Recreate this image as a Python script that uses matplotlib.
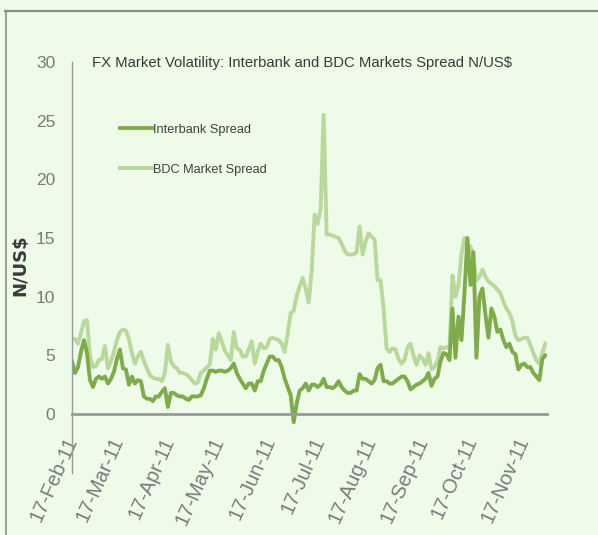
import matplotlib
matplotlib.use("Agg")
import matplotlib.pyplot as plt
from matplotlib.lines import Line2D
import pandas as pd

# Daily-ish readings, 17-Feb-11 to end of Nov-11 (N/US$)
interbank = [
    4.5, 3.5, 4.0, 5.3, 6.3, 5.2, 2.9, 2.3, 3.0, 3.2,
    3.0, 3.2, 2.6, 3.0, 3.6, 4.7, 5.5, 3.9, 3.8, 2.5,
    3.2, 2.6, 2.9, 2.8, 1.5, 1.3, 1.3, 1.1, 1.5, 1.5,
    1.9, 2.2, 0.6, 1.8, 1.8, 1.6, 1.5, 1.5, 1.3, 1.2,
    1.5, 1.5, 1.5, 1.6, 2.2, 3.0, 3.7, 3.7, 3.6, 3.7,
    3.7, 3.6, 3.7, 3.9, 4.3, 3.5, 3.0, 2.6, 2.2, 2.6,
    2.6, 2.0, 2.8, 2.8, 3.7, 4.3, 4.9, 4.9, 4.6, 4.6,
    4.0, 3.0, 2.3, 1.6, -0.7, 0.9, 2.0, 2.2, 2.6,
    2.0, 2.5, 2.5, 2.3, 2.5, 3.0, 2.3, 2.3, 2.2, 2.4,
    2.8, 2.3, 2.0, 1.8, 1.8, 2.0, 2.0, 3.4, 3.0, 3.0,
    2.8, 2.6, 2.9, 3.9, 4.2, 2.8, 2.8, 2.6, 2.6, 2.8,
    3.0, 3.2, 3.2, 2.8, 2.1, 2.3, 2.5, 2.6, 2.8, 3.0,
    3.5, 2.4, 3.0, 3.2, 4.5, 5.2, 5.1, 4.6, 9.0, 4.8,
    8.3, 6.3, 10.3, 15.0, 11.0, 13.8, 4.8, 10.0, 10.7, 8.5,
    6.5, 9.0, 8.3, 7.0, 7.2, 6.3, 5.7, 6.0, 5.3, 5.1,
    3.8, 4.2, 4.3, 4.0, 4.0, 3.5, 3.2, 2.9, 4.7, 5.0,
]
bdc = [
    6.4, 6.4, 6.0, 6.9, 7.9, 8.0, 4.9, 4.0, 4.1, 4.6,
    4.7, 5.8, 3.9, 4.5, 5.3, 6.3, 7.0, 7.2, 7.1, 6.4,
    5.2, 4.3, 4.9, 5.3, 4.5, 3.9, 3.3, 3.1, 3.0, 3.0,
    2.8, 3.5, 5.9, 4.5, 4.1, 3.9, 3.5, 3.5, 3.4, 3.2,
    2.9, 2.6, 2.7, 3.5, 3.7, 4.0, 4.2, 6.4, 5.5, 6.9,
    6.2, 5.4, 5.0, 4.6, 7.0, 5.6, 5.5, 4.9, 4.9, 5.5,
    6.2, 4.3, 5.3, 6.0, 5.6, 5.7, 6.4, 6.5, 6.4, 6.3,
    6.0, 5.3, 6.9, 8.6, 8.8, 10.1, 10.9, 11.6, 10.7,
    9.5, 12.2, 17.0, 16.2, 17.5, 25.5, 15.3, 15.3, 15.2, 15.1,
    15.0, 14.5, 13.9, 13.6, 13.6, 13.6, 13.8, 16.0, 13.6, 14.7,
    15.4, 15.1, 14.9, 11.4, 11.4, 9.0, 5.6, 5.3, 5.6, 5.5,
    4.7, 4.3, 4.6, 5.7, 6.0, 5.0, 4.2, 5.0, 4.7, 4.2,
    5.2, 3.8, 4.0, 4.5, 5.7, 5.6, 5.7, 5.6, 11.8, 10.0,
    11.0, 13.6, 15.0, 14.3, 14.3, 13.3, 11.4, 11.7, 12.3, 11.7,
    11.3, 11.1, 10.9, 10.6, 10.3, 9.6, 9.0, 8.6, 7.9, 6.7,
    6.3, 6.4, 6.5, 6.5, 5.9, 5.2, 4.6, 4.3, 5.2, 6.0,
]
start_date = "2011-02-17"
end_date = "2011-11-30"
tick_dates = ["2011-02-17", "2011-03-17", "2011-04-17", "2011-05-17", "2011-06-17",
              "2011-07-17", "2011-08-17", "2011-09-17", "2011-10-17", "2011-11-17"]
y_ticks = [0, 5, 10, 15, 20, 25, 30]
title = "FX Market Volatility: Interbank and BDC Markets Spread N/US$"
series_names = ["Interbank Spread", "BDC Market Spread"]

BG = "#eefbe8"
DARK = "#7fab4d"
LIGHT = "#b9d89b"
FONT = ["Liberation Sans Narrow", "Liberation Sans"]


def fitted_size(fig, renderer, s, target_px, weight="normal"):
    # font size (pt) that makes string s about target_px wide
    t = fig.text(0, 0, s, family=FONT, fontsize=10, fontweight=weight)
    w = t.get_window_extent(renderer).width
    t.remove()
    return 10 * target_px / w


def main():
    fig = plt.figure(figsize=(5.98, 5.35), dpi=100, facecolor=BG)
    renderer = fig.canvas.get_renderer()
    ax = fig.add_axes([0.1204, 0.1164, 0.7943, 0.7677], facecolor=BG)

    dates = pd.date_range(start_date, end_date, periods=len(interbank))
    ax.plot(dates, bdc, color=LIGHT, lw=2.8)
    ax.plot(dates, interbank, color=DARK, lw=2.8)

    ax.set_ylim(-5, 30)
    ax.set_xlim(pd.Timestamp("2011-02-17"), pd.Timestamp("2011-12-01"))

    for side in ("top", "right"):
        ax.spines[side].set_visible(False)
    ax.spines["left"].set_color("#9a9a9a")
    ax.spines["left"].set_linewidth(1.0)
    ax.spines["bottom"].set_position(("data", 0))
    ax.spines["bottom"].set_color("#9a9a9a")
    ax.spines["bottom"].set_linewidth(2.0)

    xsize = fitted_size(fig, renderer, "17-Nov-11", 92)

    ticks = pd.to_datetime(tick_dates)
    ax.set_xticks(ticks)
    ax.set_xticklabels([t.strftime("%d-%b-%y") for t in ticks], rotation=66,
                       ha="right", va="center", rotation_mode="anchor",
                       family=FONT, fontsize=xsize, color="#7a7a7a")
    ax.set_yticks(y_ticks)
    ax.set_yticklabels([str(v) for v in y_ticks], family=FONT, fontsize=12.5,
                       color="#7a7a7a")
    ax.tick_params(axis="x", length=0, pad=17)
    ax.tick_params(axis="y", length=0, pad=12)

    lsize = 9.2
    handles = [Line2D([], [], color=DARK, lw=2.8), Line2D([], [], color=LIGHT, lw=2.8)]
    ax.legend(handles, series_names, loc="upper left",
              bbox_to_anchor=(0.101, 0.85), frameon=False, borderpad=0,
              borderaxespad=0, handlelength=2.5, handletextpad=0.05,
              labelspacing=2.2, prop={"family": FONT, "size": lsize},
              labelcolor="#404040")

    tsize = fitted_size(fig, renderer, title, 420)
    fig.text(302 / 598, 1 - 63 / 535, title, ha="center", va="center",
             family=FONT, fontsize=tsize, color="#3a3a3a")
    fig.text(20 / 598, 1 - 265 / 535, "N/US$", rotation=90, ha="center", va="center",
             fontsize=13, fontweight="bold", color="#3a3a3a")

    # frame edges visible at top and left of the original
    fig.add_artist(Line2D([5 / 598, 1], [1 - 10.5 / 535] * 2, transform=fig.transFigure,
                          color="#8c8c8c", lw=1.6))
    fig.add_artist(Line2D([5.5 / 598] * 2, [0, 1 - 10.5 / 535], transform=fig.transFigure,
                          color="#8c8c8c", lw=1.2))

    fig.savefig("out.png", dpi=100, facecolor=BG)


if __name__ == "__main__":
    main()
